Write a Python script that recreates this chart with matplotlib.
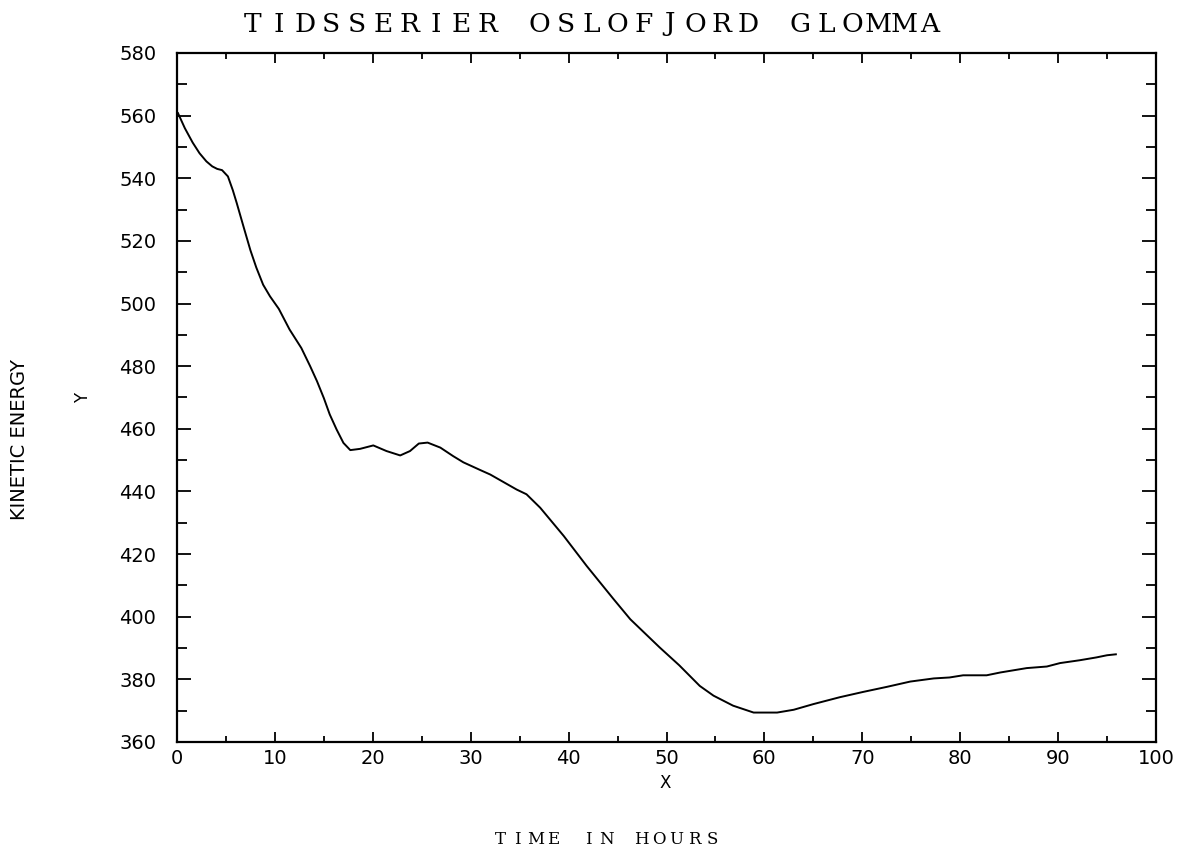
import matplotlib
matplotlib.use("Agg")
import matplotlib.pyplot as plt
from matplotlib.ticker import MultipleLocator

# Data
time_hours = [0.1, 0.8, 1.6, 2.3, 3.0, 3.6, 4.1, 4.6, 5.2, 5.7, 6.1, 6.8, 7.5, 8.1, 8.8,
              9.5, 10.4, 11.5, 12.7, 13.6, 14.3, 15.0, 15.6, 16.3, 17.0, 17.7, 18.7,
              20.05, 21.4, 22.8, 23.8, 24.7, 25.6, 26.9, 28.2, 29.25, 31.0, 32.0,
              34.7, 35.7, 37.1, 39.5, 41.85, 44.6, 46.3, 49.3, 51.3, 53.4, 54.8, 56.8,
              58.9, 61.3, 63.0, 65.0, 67.7, 70.1, 72.5, 74.9, 77.3, 78.9, 80.3, 82.7,
              84.1, 86.8, 88.85, 90.2, 92.2, 93.9, 95.0, 95.9]
kinetic_energy = [560.8, 556.0, 551.4, 548.0, 545.4, 543.8, 543.0, 542.6, 540.6, 536.2,
                  532.1, 524.5, 517.0, 511.5, 506.0, 502.3, 498.3, 491.7, 485.8, 480.0,
                  475.2, 469.8, 464.6, 459.8, 455.5, 453.2, 453.6, 454.7, 452.9, 451.5,
                  452.9, 455.3, 455.6, 454.0, 451.3, 449.3, 446.8, 445.4, 440.6, 439.1,
                  434.8, 425.8, 416.2, 405.6, 399.2, 390.2, 384.5, 377.9, 374.8, 371.6,
                  369.4, 369.4, 370.3, 372.1, 374.3, 376.0, 377.6, 379.3, 380.3, 380.6,
                  381.3, 381.3, 382.2, 383.6, 384.1, 385.2, 386.1, 387.0, 387.7, 388.0]

title_text = "TIDSSERIER OSLOFJORD GLOMMA"
xlabel_inner = "X"
ylabel_inner = "Y"
xlabel_outer = "TIME IN HOURS"
ylabel_outer = "KINETIC ENERGY"

W, H = 1181, 849
fig = plt.figure(figsize=(W / 100, H / 100), dpi=100)
fig.patch.set_facecolor("white")
ax = fig.add_axes([177 / W, 1 - 742 / H, (1156 - 177) / W, (742 - 53) / H])

ax.plot(time_hours, kinetic_energy, color="black", linewidth=1.4)
ax.set_xlim(0, 100)
ax.set_ylim(360, 580)

ax.xaxis.set_major_locator(MultipleLocator(10))
ax.xaxis.set_minor_locator(MultipleLocator(5))
ax.yaxis.set_major_locator(MultipleLocator(20))
ax.yaxis.set_minor_locator(MultipleLocator(10))

for s in ax.spines.values():
    s.set_linewidth(1.6)
    s.set_color("black")

ax.tick_params(axis="x", which="both", direction="in", top=True, bottom=True,
               width=1.3, color="black")
ax.tick_params(axis="x", which="major", length=7, pad=5, labelsize=14)
ax.tick_params(axis="x", which="minor", length=4)
ax.tick_params(axis="y", which="both", direction="in", left=True, right=True,
               width=1.3, color="black")
ax.tick_params(axis="y", which="major", length=10, pad=15, labelsize=14)
ax.tick_params(axis="y", which="minor", length=7)

for lab in ax.get_xticklabels() + ax.get_yticklabels():
    lab.set_fontfamily("DejaVu Sans")

ax.set_xlabel(xlabel_inner, fontsize=12)
ax.xaxis.set_label_coords((665 - 177) / 979, (742 - 783) / 689)
ax.xaxis.label.set_va("center")
ax.set_ylabel(ylabel_inner, fontsize=12)
ax.yaxis.set_label_coords((83 - 177) / 979, 0.5)
ax.yaxis.label.set_va("center")

# Letter-spaced title, drawn character by character
x0, x1, ty = 253, 930, H - 24
n = len(title_text)
step = (x1 - x0) / (n - 1)
for i, ch in enumerate(title_text):
    fig.text((x0 + i * step) / W, ty / H, ch, ha="center", va="center",
             fontsize=19, family="DejaVu Serif")

# Letter-spaced bottom label
bx0, bx1, by = 500, 712, H - 840
m = len(xlabel_outer)
bstep = (bx1 - bx0) / (m - 1)
for i, ch in enumerate(xlabel_outer):
    fig.text((bx0 + i * bstep) / W, by / H, ch, ha="center", va="center",
             fontsize=12, family="DejaVu Serif")

fig.text(20 / W, 1 - 440 / H, ylabel_outer, rotation=90, ha="center", va="center",
         fontsize=14, family="DejaVu Sans")

fig.savefig("out.png", dpi=100, facecolor="white")
